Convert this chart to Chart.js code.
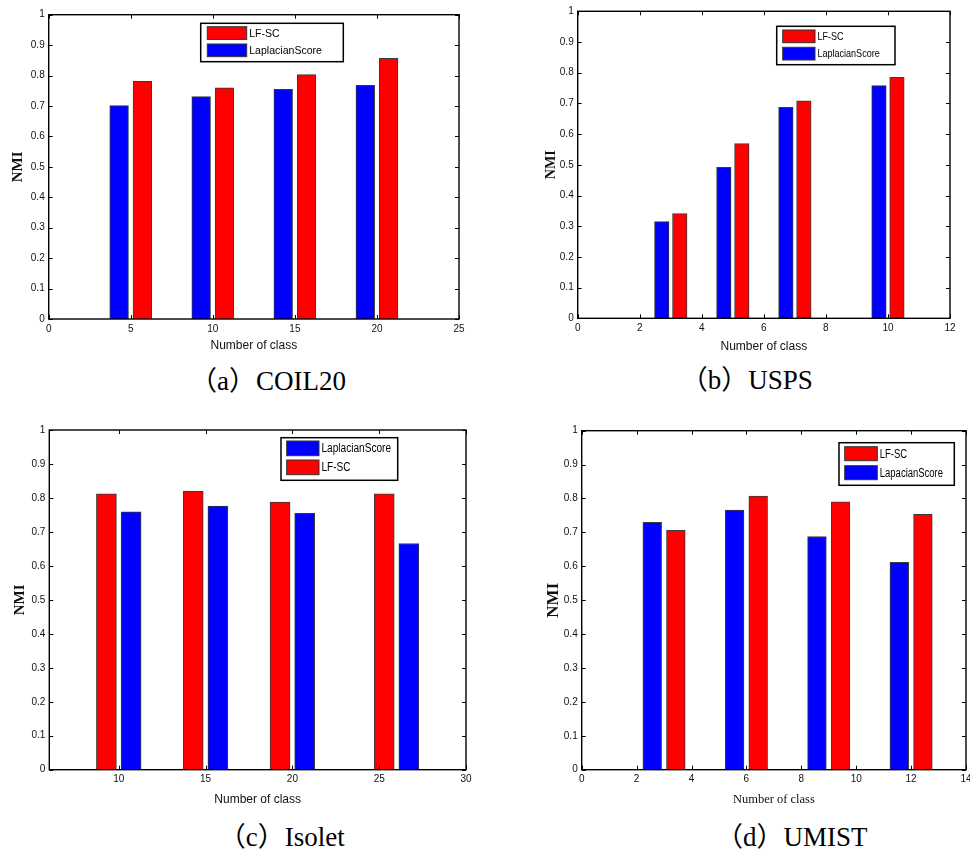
<!DOCTYPE html>
<html>
<head>
<meta charset="utf-8">
<title>NMI vs number of class</title>
<script src="https://cdn.jsdelivr.net/npm/chart.js@4.4.1/dist/chart.umd.min.js"></script>
<style>
  html, body { margin: 0; padding: 0; background: #fff; }
  body { position: relative; width: 970px; height: 852px; overflow: hidden; }
  .panel { position: absolute; }
  .caption {
    position: absolute; width: 300px; height: 30px; line-height: 30px;
    text-align: center; white-space: nowrap; color: #000;
    font-family: "Liberation Serif", "Noto Sans CJK SC", serif; font-size: 27px;
  }
</style>
</head>
<body>
<script>
// (a) COIL20
const coilClasses = [5, 10, 15, 20];
const coilLFSC = [0.781, 0.760, 0.803, 0.857];
const coilLaplacian = [0.701, 0.731, 0.755, 0.768];
const coilXTicks = [0, 5, 10, 15, 20, 25];

// (b) USPS
const uspsClasses = [3, 5, 7, 10];
const uspsLFSC = [0.341, 0.569, 0.708, 0.785];
const uspsLaplacian = [0.315, 0.492, 0.687, 0.758];
const uspsXTicks = [0, 2, 4, 6, 8, 10, 12];

// (c) Isolet
const isoletClasses = [10, 15, 20, 26];
const isoletLaplacian = [0.759, 0.776, 0.755, 0.666];
const isoletLFSC = [0.812, 0.820, 0.788, 0.812];
const isoletXTicks = [10, 15, 20, 25, 30];

// (d) UMIST
const umistClasses = [3, 6, 9, 12];
const umistLFSC = [0.706, 0.807, 0.790, 0.753];
const umistLaplacian = [0.730, 0.766, 0.688, 0.612];
const umistXTicks = [0, 2, 4, 6, 8, 10, 12, 14];

const nmiTicks = [0, 0.1, 0.2, 0.3, 0.4, 0.5, 0.6, 0.7, 0.8, 0.9, 1];

const red = '#ff0000';
const blue = '#0000ff';
const sans = "'Liberation Sans', Arial, sans-serif";
const serif = "'Liberation Serif', 'Times New Roman', serif";

const panels = [
    {
        caption: '（a）COIL20', captionX: 268, captionY: 380.7,
        box: {left: 0, top: 0, width: 480, height: 362},
        area: {left: 48.7, top: 14.7, right: 459, bottom: 319},
        nmiX: 18, nmiSize: 15, xTitleY: 346, xTitleFamily: sans, xTitleSize: 12,
        xMin: 0, xMax: 25, xTicks: coilXTicks, categories: coilClasses, barPx: 18.7,
        series: [
            {label: 'LF-SC', color: red, values: coilLFSC, shift: 0.71},
            {label: 'LaplacianScore', color: blue, values: coilLaplacian, shift: -0.71}
        ],
        legend: {x: 200.7, y: 23.3, w: 142.6, h: 38.4, swX: 6.6, swY: 3.4, swW: 39.4, swH: 12.7, step: 17.3, size: 11, squeeze: 0.96}
    },
    {
        caption: '（b）USPS', captionX: 746.7, captionY: 380,
        box: {left: 480, top: 0, width: 490, height: 362},
        area: {left: 577.7, top: 11.3, right: 950, bottom: 318.3},
        nmiX: 551.7, nmiSize: 14, xTitleY: 346.7, xTitleFamily: sans, xTitleSize: 12,
        xMin: 0, xMax: 12, xTicks: uspsXTicks, categories: uspsClasses, barPx: 14.5,
        series: [
            {label: 'LF-SC', color: red, values: uspsLFSC, shift: 0.29},
            {label: 'LaplacianScore', color: blue, values: uspsLaplacian, shift: -0.29}
        ],
        legend: {x: 776.7, y: 26.3, w: 118.3, h: 38.4, swX: 6, swY: 3.7, swW: 32.3, swH: 12.7, step: 17.3, size: 11, squeeze: 0.82}
    },
    {
        caption: '（c）Isolet', captionX: 281.7, captionY: 836.7,
        box: {left: 0, top: 420, width: 480, height: 400},
        area: {left: 49.3, top: 430, right: 466, bottom: 769.7},
        nmiX: 20, nmiSize: 15, xTitleY: 800, xTitleFamily: sans, xTitleSize: 12,
        xMin: 6, xMax: 30, xTicks: isoletXTicks, categories: isoletClasses, barPx: 20,
        series: [
            {label: 'LaplacianScore', color: blue, values: isoletLaplacian, shift: 0.71},
            {label: 'LF-SC', color: red, values: isoletLFSC, shift: -0.71}
        ],
        legend: {x: 281, y: 437.7, w: 116.7, h: 42.6, swX: 5.7, swY: 3.3, swW: 32.3, swH: 14.7, step: 19, size: 12, squeeze: 0.84}
    },
    {
        caption: '（d）UMIST', captionX: 791.7, captionY: 836.7,
        box: {left: 480, top: 420, width: 500, height: 400},
        area: {left: 581.7, top: 430.7, right: 966, bottom: 769.7},
        nmiX: 553.3, nmiSize: 17, xTitleY: 800, xTitleFamily: serif, xTitleSize: 12.5,
        xMin: 0, xMax: 14, xTicks: umistXTicks, categories: umistClasses, barPx: 18.7,
        series: [
            {label: 'LF-SC', color: red, values: umistLFSC, shift: 0.43},
            {label: 'LapacianScore', color: blue, values: umistLaplacian, shift: -0.43}
        ],
        legend: {x: 839, y: 442.7, w: 115.3, h: 42.6, swX: 5.7, swY: 4, swW: 32.6, swH: 14, step: 19, size: 12, squeeze: 0.79}
    }
];

// box, inward ticks on all four sides, and the legend in the top right
function matlabPlugin(p) {
    return {
        id: 'matlabLook',
        afterDatasetsDraw(chart) {
            const ctx = chart.ctx;
            const a = chart.chartArea;
            const xs = chart.scales.x;
            const ys = chart.scales.y;
            ctx.save();
            ctx.strokeStyle = '#000';
            ctx.lineWidth = 1;
            ctx.beginPath();
            xs.ticks.forEach((t) => {
                const px = Math.round(xs.getPixelForValue(t.value)) + 0.5;
                ctx.moveTo(px, a.bottom); ctx.lineTo(px, a.bottom - 4);
                ctx.moveTo(px, a.top); ctx.lineTo(px, a.top + 4);
            });
            ys.ticks.forEach((t) => {
                const py = Math.round(ys.getPixelForValue(t.value)) + 0.5;
                ctx.moveTo(a.left, py); ctx.lineTo(a.left + 4, py);
                ctx.moveTo(a.right, py); ctx.lineTo(a.right - 4, py);
            });
            ctx.stroke();
            ctx.lineWidth = 1.4;
            ctx.strokeRect(a.left, a.top, a.right - a.left, a.bottom - a.top);
            ctx.restore();
        },
        afterDraw(chart) {
            const ctx = chart.ctx;
            const lg = p.legend;
            const x0 = lg.x - p.box.left;
            const y0 = lg.y - p.box.top;
            ctx.save();
            ctx.fillStyle = '#fff';
            ctx.fillRect(x0, y0, lg.w, lg.h);
            ctx.strokeStyle = '#000';
            ctx.lineWidth = 1.5;
            ctx.strokeRect(x0, y0, lg.w, lg.h);
            chart.data.datasets.forEach((ds, i) => {
                const sx = x0 + lg.swX;
                const sy = y0 + lg.swY + i * lg.step;
                ctx.fillStyle = ds.backgroundColor;
                ctx.fillRect(sx, sy, lg.swW, lg.swH);
                ctx.strokeStyle = '#333';
                ctx.lineWidth = 1;
                ctx.strokeRect(sx, sy, lg.swW, lg.swH);
                ctx.save();
                ctx.translate(sx + lg.swW + 2.5, sy + lg.swH / 2 + 0.5);
                ctx.scale(lg.squeeze, 1);
                ctx.fillStyle = '#000';
                ctx.font = lg.size + 'px ' + sans;
                ctx.textBaseline = 'middle';
                ctx.fillText(ds.label, 0, 0);
                ctx.restore();
            });
            ctx.restore();
        }
    };
}

panels.forEach((p) => {
    const div = document.createElement('div');
    div.className = 'panel';
    div.style.left = p.box.left + 'px';
    div.style.top = p.box.top + 'px';
    const canvas = document.createElement('canvas');
    canvas.width = p.box.width;
    canvas.height = p.box.height;
    div.appendChild(canvas);
    document.body.appendChild(div);

    const cap = document.createElement('div');
    cap.className = 'caption';
    cap.textContent = p.caption;
    cap.style.left = (p.captionX - 150) + 'px';
    cap.style.top = (p.captionY - 15) + 'px';
    document.body.appendChild(cap);

    const nmiHalf = p.nmiSize * 1.2 / 2;
    const padLeft = p.nmiX - p.box.left - nmiHalf;
    const yWidth = p.area.left - p.box.left - padLeft;
    const xBottom = p.xTitleY + p.xTitleSize * 1.2 / 2;
    const xHeight = xBottom - p.area.bottom;

    new Chart(canvas, {
        type: 'bar',
        data: {
            datasets: p.series.map((s) => ({
                label: s.label,
                data: p.categories.map((c, i) => ({x: c + s.shift, y: s.values[i]})),
                backgroundColor: s.color,
                borderColor: '#3a3a3a',
                borderWidth: 1,
                barThickness: p.barPx,
                grouped: false
            }))
        },
        options: {
            responsive: false,
            animation: false,
            devicePixelRatio: 1,
            layout: {
                padding: {
                    left: padLeft,
                    top: p.area.top - p.box.top,
                    right: p.box.left + p.box.width - p.area.right,
                    bottom: p.box.top + p.box.height - xBottom
                }
            },
            plugins: {
                legend: {display: false},
                tooltip: {enabled: false}
            },
            scales: {
                x: {
                    type: 'linear',
                    min: p.xMin,
                    max: p.xMax,
                    offset: false,
                    grid: {display: false, drawTicks: false},
                    border: {display: false},
                    afterBuildTicks: (scale) => { scale.ticks = p.xTicks.map((v) => ({value: v})); },
                    afterFit: (scale) => { scale.height = xHeight; },
                    ticks: {
                        padding: 4,
                        color: '#111',
                        font: {family: sans, size: 10},
                        maxRotation: 0,
                        callback: (v) => String(v)
                    },
                    title: {
                        display: true,
                        text: 'Number of class',
                        color: '#111',
                        padding: 0,
                        font: {family: p.xTitleFamily, size: p.xTitleSize}
                    }
                },
                y: {
                    min: 0,
                    max: 1,
                    grid: {display: false, drawTicks: false},
                    border: {display: false},
                    afterBuildTicks: (scale) => { scale.ticks = nmiTicks.map((v) => ({value: v})); },
                    afterFit: (scale) => { scale.width = yWidth; },
                    ticks: {
                        padding: 4,
                        color: '#111',
                        font: {family: sans, size: 10},
                        callback: (v) => String(v)
                    },
                    title: {
                        display: true,
                        text: 'NMI',
                        color: '#111',
                        padding: 0,
                        font: {family: serif, size: p.nmiSize, weight: 'bold'}
                    }
                }
            }
        },
        plugins: [matlabPlugin(p)]
    });
});
</script>
</body>
</html>
